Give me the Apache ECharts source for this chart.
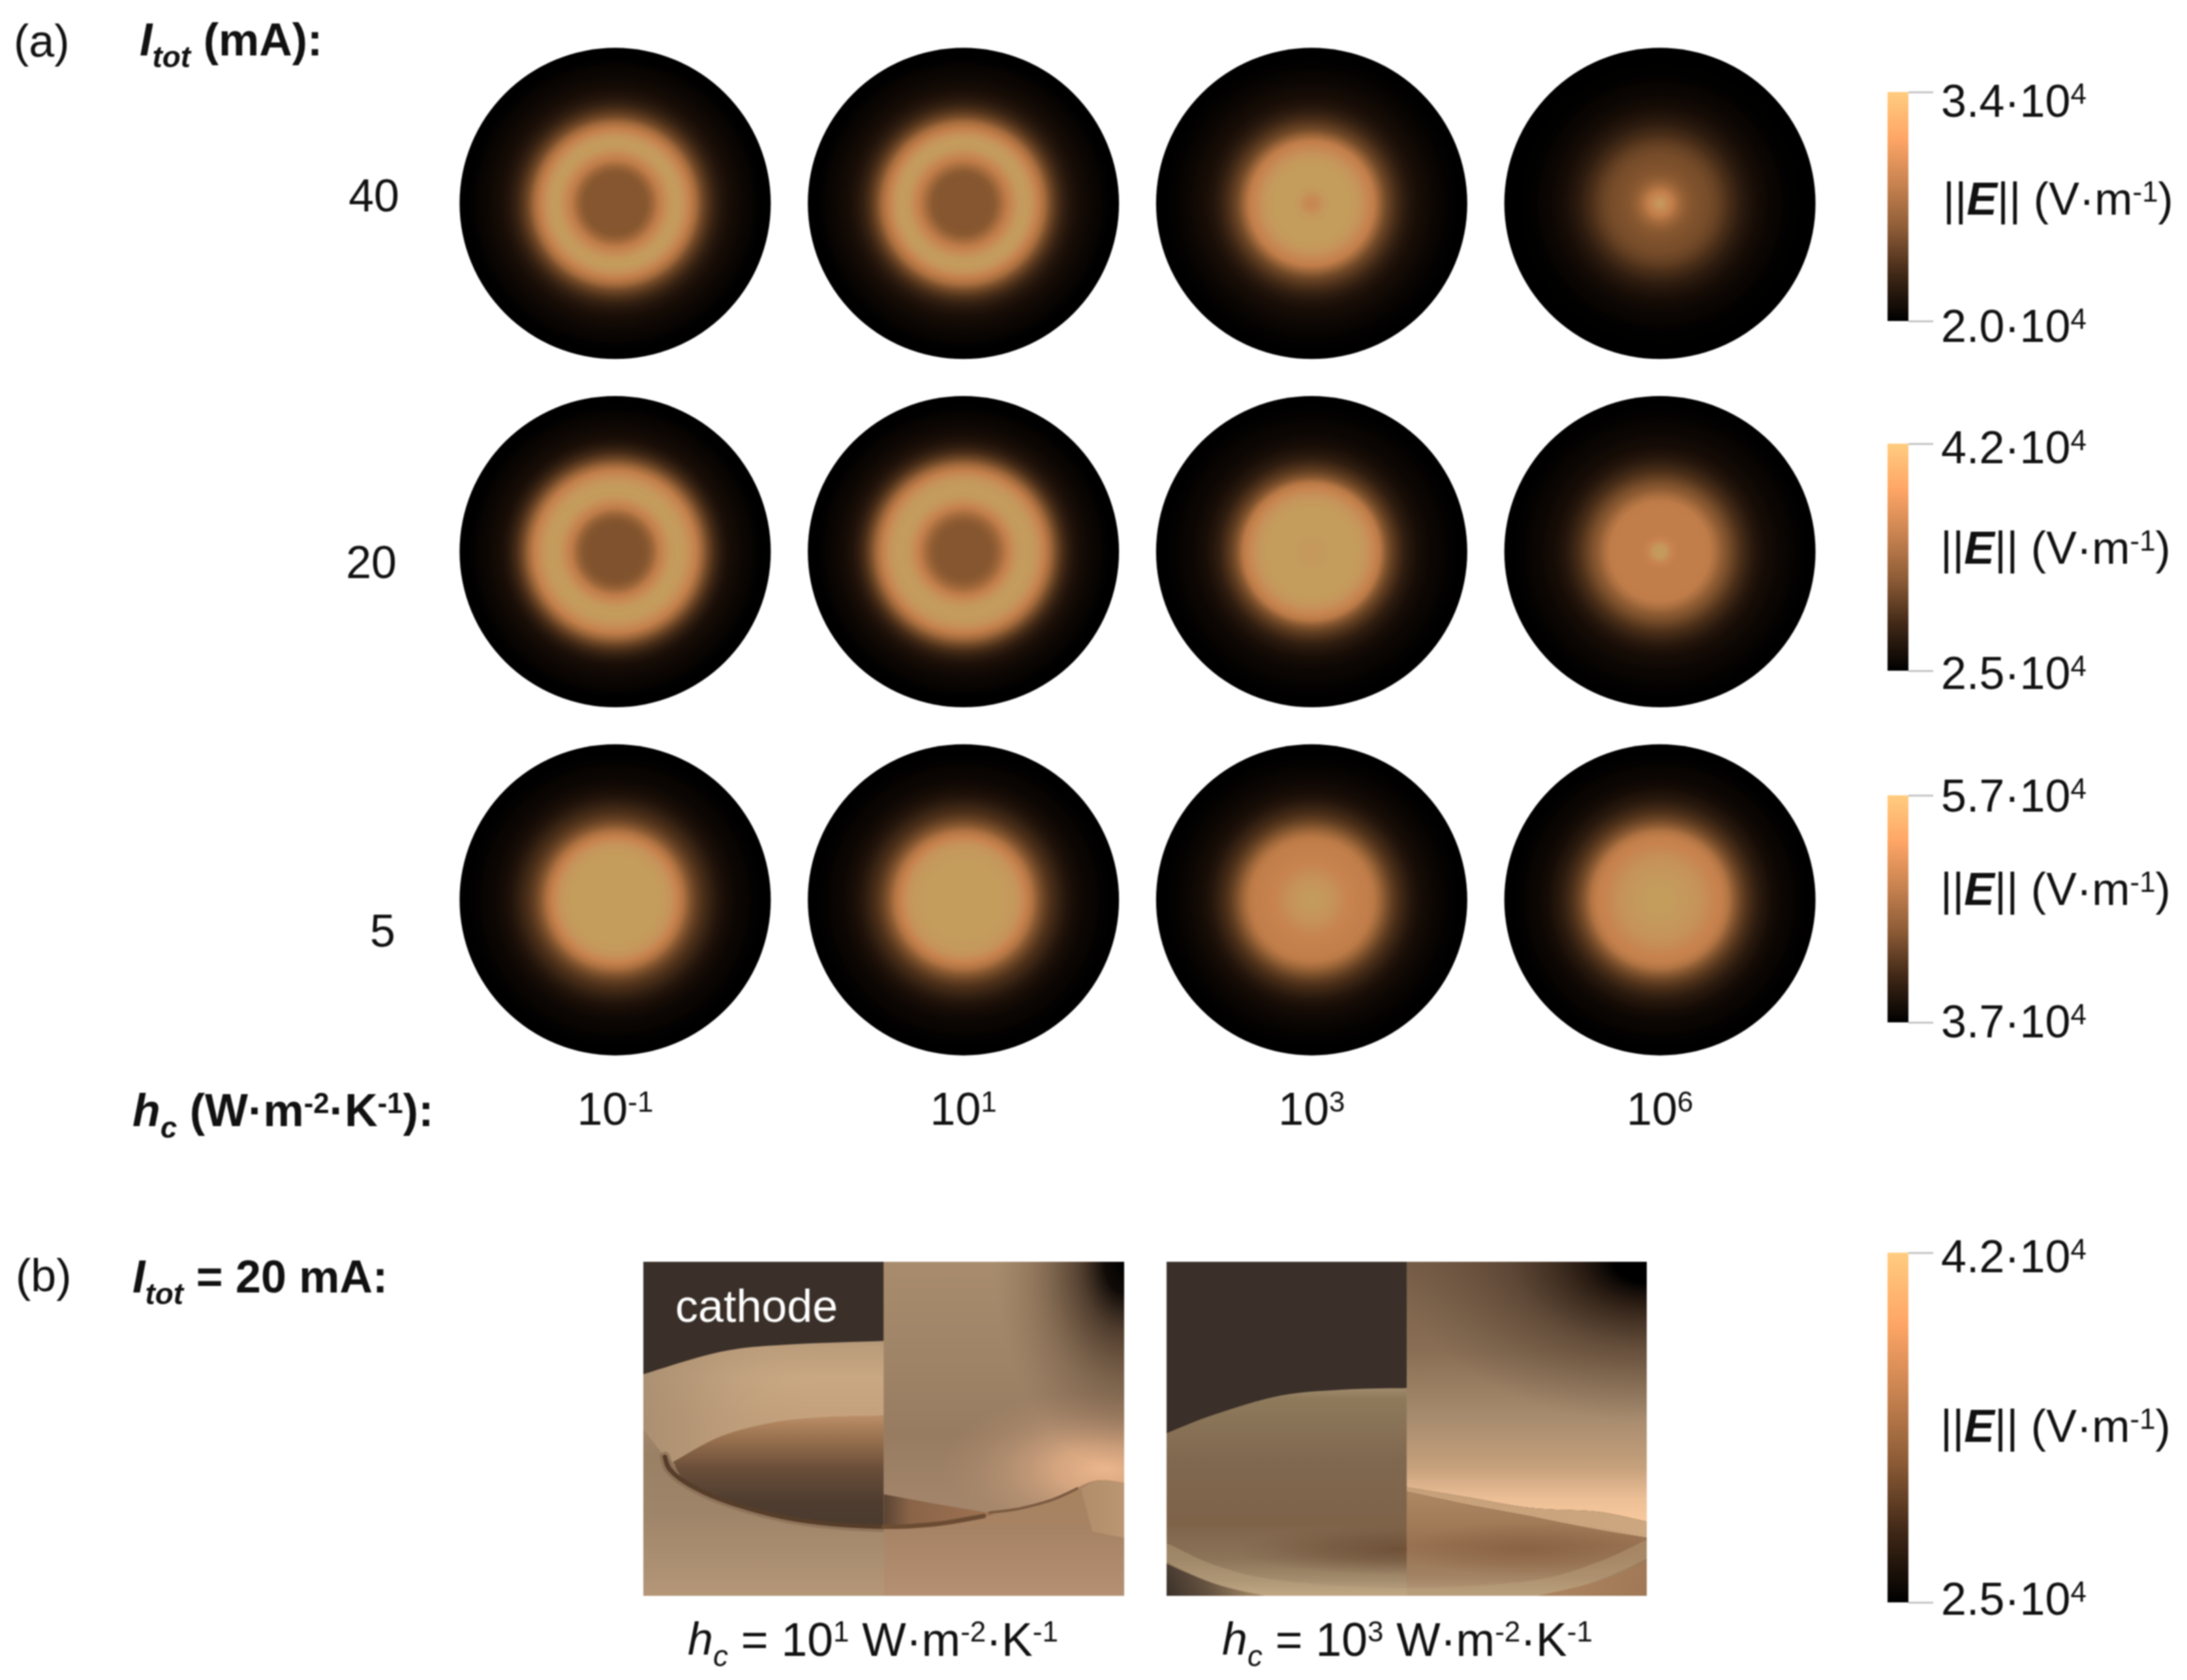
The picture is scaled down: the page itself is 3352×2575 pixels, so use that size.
<!DOCTYPE html>
<html><head><meta charset="utf-8">
<style>html,body{margin:0;padding:0;background:#fff}#c{width:3352px;height:2575px}#c canvas{filter:blur(1px)}</style>
<script src="https://cdn.jsdelivr.net/npm/echarts@6/dist/echarts.min.js"></script></head>
<body><div id="c"></div>
<script>
// ---------- data ----------
const hcExponents = ['-1','1','3','6'];
const currents = ['5','20','40'];
const radii = [0,.04,.08,.12,.16,.2,.24,.28,.32,.36,.4,.44,.48,.52,.56,.6,.64,.68,.72,.76,.8,.84,.88,.92,.96,1];
// relative field level along the radius of each disc
const i40_h1 = [.5,.5,.5,.5,.5,.51,.58,.7,.85,.97,1,.9,.75,.6,.43,.31,.22,.16,.12,.09,.07,.05,.03,.01,0,0];
const i40_h2 = [.5,.5,.5,.5,.5,.52,.6,.72,.86,.98,1,.91,.76,.61,.44,.31,.22,.16,.12,.09,.07,.05,.03,.01,0,0];
const i40_h3 = [.82,.85,.95,1,1,1,1,.97,.9,.83,.72,.56,.42,.33,.25,.19,.14,.11,.09,.07,.05,.03,.02,.01,0,0];
const i40_h4 = [1,.86,.72,.6,.54,.5,.48,.46,.44,.4,.35,.29,.24,.19,.15,.12,.09,.07,.05,.04,.02,.01,.005,0,0,0];
const i20_h1 = [.48,.48,.48,.48,.48,.5,.57,.7,.85,.97,1,.97,.87,.74,.57,.4,.27,.18,.12,.09,.07,.05,.03,.01,0,0];
const i20_h2 = [.5,.5,.5,.5,.5,.53,.6,.73,.87,.98,1,.98,.89,.76,.59,.42,.28,.19,.13,.1,.07,.05,.03,.01,0,0];
const i20_h3 = [.97,.97,.98,1,1,1,1,1,.97,.9,.82,.68,.5,.37,.28,.2,.15,.11,.08,.06,.05,.03,.02,.01,0,0];
const i20_h4 = [1,.95,.8,.72,.72,.72,.72,.72,.7,.62,.53,.46,.37,.29,.23,.17,.13,.1,.08,.06,.05,.03,.02,.01,0,0];
const i5_h1 = [1,1,1,1,1,1,1,1,.97,.9,.8,.64,.5,.38,.3,.24,.18,.13,.1,.07,.05,.04,.02,.01,0,0];
const i5_h2 = [1,1,1,1,1,1,1,.99,.96,.9,.8,.65,.51,.39,.3,.24,.18,.13,.1,.07,.05,.04,.02,.01,0,0];
const i5_h3 = [1,.98,.95,.92,.88,.84,.8,.78,.76,.74,.68,.58,.47,.36,.28,.22,.16,.12,.09,.07,.05,.03,.02,.01,0,0];
const i5_h4 = [1,1,1,.98,.96,.94,.92,.88,.84,.8,.75,.65,.52,.4,.31,.24,.18,.14,.1,.07,.05,.04,.02,.01,0,0];
const discTable = [
  [i5_h1,i5_h2,i5_h3,i5_h4],
  [i20_h1,i20_h2,i20_h3,i20_h4],
  [i40_h1,i40_h2,i40_h3,i40_h4]
];
const discColors = ['#000000','#160c06','#2f1d10','#4d3019','#6a4425','#85562f','#a56b3c','#bf7c49','#c8834e','#c6925a','#c49c5c'];
const scaleColors = [[0,'#ffcc80'],[.2,'#ffa666'],[.4,'#c98350'],[.6,'#8c5b36'],[.8,'#3f2716'],[1,'#000000']];
const scaleMin = [2.0e4,2.5e4,3.7e4,2.5e4];
const scaleMax = [3.4e4,4.2e4,5.7e4,4.2e4];

// outlines of the two cut-away renderings, in percent of each panel
const aTorusTop = [[0,33.7],[15.9,27],[29.8,24.8],[50,23.7]];
const aCraterTop = [[6.2,59.9],[15.9,52.4],[26.3,48.3],[36.7,46.6],[50,46]];
const aCraterBottom = [[50,79],[36.7,78],[26.3,75.5],[15.9,71],[9,66.2],[6.2,59.9]];
const aRim = [[4.5,58.4],[5.5,62.1],[9,66.2],[15.9,71],[26.3,75.5],[36.7,78.1],[50,79.3],[60.9,78.5],[71.6,75.9]];
const aWallEdge = [[50,69.6],[60.9,72.5],[71.6,75.1],[78.2,73.7],[85.1,71],[90.7,67.3],[93.4,65.7],[96.2,65.4],[100,66.2]];
const aEdgeShadow = [[72,75.1],[78.2,73.9],[85.1,71.2],[90.2,67.9]];
const bDiscTop = [[0,51.3],[10,45.7],[23.9,40],[37.8,38.2],[50,37.8]];
const bWallEdge = [[50,67.5],[62,70.3],[75.9,73.7],[89.7,74.8],[100,77.8]];
const bBandEdge = [[50,68.8],[62,72.5],[75,76],[89,80],[100,82.6]];
const bCornerLeft = [[0,90.4],[10,96.4],[20.4,100]];
const bCornerRight = [[77.3,100],[89.7,95.7],[100,90]];
const bRimBand = [[0,87],[10,93.5],[24,98],[50,100.2],[76,98],[90,92.5],[100,86]];

// ---------- helpers ----------
const FONT = '"Liberation Sans", Arial, sans-serif';
const R = echarts.graphic.RadialGradient, L = echarts.graphic.LinearGradient;
const stops = a => a.map(s => ({offset:s[0], color:s[1]}));
function curve(p){ // smooth outline through the read points
  const o=[];
  for(let i=0;i<p.length-1;i++){
    const a=p[Math.max(i-1,0)],b=p[i],c=p[i+1],d=p[Math.min(i+2,p.length-1)];
    for(let k=0;k<8;k++){const t=k/8,t2=t*t,t3=t2*t;
      o.push([0,1].map(j=>.5*(2*b[j]+(c[j]-a[j])*t+(2*a[j]-5*b[j]+4*c[j]-d[j])*t2+(3*b[j]-a[j]-3*c[j]+d[j])*t3)));}
  }
  o.push(p[p.length-1]);return o;
}
const rev = p => p.slice().reverse();
const poly = (pts,g,st) => ({kind:'poly',pts,g,st});
const line = (pts,color,w,op) => ({kind:'line',pts,color,w,op});
const blob = (c,rx,ry,st) => ({kind:'blob',c,rx,ry,st});

const aTorus = [...curve(aTorusTop),[50,46],...rev(curve(aCraterTop)),[4.5,58.4],[0,50]];
const layersA = [
  poly([[0,0],[100,0],[100,100],[0,100]],[0,40,0,100],[[0,'#a98f72'],[.3,'#9a8065'],[.6,'#9f856a'],[1,'#b59778']]),
  poly([[0,0],[50,0],[50,24],[0,34]],[0,0,1,0],[[0,'#3a3029'],[1,'#3a3029']]),
  poly(aTorus,[0,23.7,0,48],[[0,'#b4987a'],[.08,'#bb9d7b'],[.45,'#c9a883'],[1,'#c4a07c']]),
  poly(aTorus,[0,0,36,0],[[0,'rgba(168,142,112,.9)'],[.3,'rgba(172,145,115,.6)'],[.7,'rgba(185,155,122,.22)'],[1,'rgba(195,160,125,0)']]),
  line(curve(aRim),'#7d6149',16,.5),
  poly([...curve(aCraterTop),...curve(aCraterBottom)],[0,46,0,78],[[0,'#bb8f68'],[.2,'#9b7350'],[.5,'#6a4e39'],[.8,'#4f3d30'],[1,'#4b3a2e']]),
  line(curve(aRim),'#553d2a',7,1),
  poly([[50,0],[100,0],...rev(curve(aWallEdge))],[50,0,50,72],[[0,'#a88c6d'],[.45,'#9f8367'],[.72,'#987c62'],[1,'#a2856a']]),
  blob([96,62],34,24,[[0,'rgba(236,182,140,1)'],[.3,'rgba(226,174,134,.8)'],[.65,'rgba(205,160,125,.35)'],[1,'rgba(180,140,110,0)']]),
  blob([100,0],27,62,[[0,'rgba(0,0,0,1)'],[.15,'rgba(8,4,2,.95)'],[.34,'rgba(50,34,24,.72)'],[.68,'rgba(90,68,50,.32)'],[1,'rgba(120,95,75,0)']]),
  poly([...curve(aWallEdge),[100,100],[50,100]],[50,68,50,100],[[0,'#a9835f'],[.35,'#a78365'],[1,'#b59072']]),
  poly([[50,69.6],[60.9,72.5],[71.6,75.1],[73,75.8],[60.9,78.5],[50,79.3]],[50,0,72,0],[[0,'#5a4433'],[.25,'#8a6448'],[1,'#9f7252']]),
  poly([[91,68],[93.4,80.7],[100,82.6],[100,66.2],[96.2,65.4],[93.4,65.7]],[91,0,100,0],[[0,'#b28d6b'],[1,'#bb9672']]),
  line(curve(aEdgeShadow),'#7a5a40',4,1),
  line(curve(aRim).slice(48,64),'#6b4c33',7,1)
];
const layersB = [
  poly([[0,0],[100,0],[100,100],[0,100]],[0,0,0,1],[[0,'#3a3029'],[1,'#3a3029']]),
  poly([...curve(bDiscTop),[50,100],[0,100]],[0,37.8,0,100],[[0,'#a08a6c'],[.05,'#8f7a5c'],[.35,'#806850'],[.65,'#7e6349'],[.82,'#8c7459'],[.92,'#a38b6d'],[1,'#c0a885']]),
  blob([50,86],36,8,[[0,'rgba(105,74,50,.85)'],[.5,'rgba(110,80,55,.5)'],[1,'rgba(120,90,65,0)']]),
  poly([[50,0],[100,0],...rev(curve(bWallEdge))],[50,0,50,77],[[0,'#775d47'],[.35,'#8a6f55'],[.6,'#a68b6e'],[.8,'#c6a17c'],[.92,'#ecbf96'],[1,'#f8c89c']]),
  blob([100,0],52,48,[[0,'rgba(0,0,0,1)'],[.13,'rgba(0,0,0,1)'],[.26,'rgba(28,16,9,.85)'],[.55,'rgba(60,42,30,.45)'],[1,'rgba(90,70,55,0)']]),
  poly([...curve(bWallEdge),...rev(curve(bBandEdge))],[50,0,100,0],[[0,'#c6a079'],[1,'#cda780']]),
  poly([...curve(bBandEdge),[100,100],[50,100]],[50,70,50,100],[[0,'#ac8561'],[.5,'#997352'],[.8,'#a18262'],[1,'#b89c7b']]),
  blob([75,86],28,8,[[0,'rgba(135,95,65,.8)'],[1,'rgba(135,95,65,0)']]),
  line(curve(bRimBand),'#bfa784',26,.38),
  poly([...curve(bCornerLeft),[0,100]],[0,100,14,90],[[0,'#3a3029'],[.55,'#665341'],[1,'#9a8060']]),
  poly([...curve(bCornerRight),[100,100]],[100,100,85,92],[[0,'#a07856'],[1,'#aa825e']])
];

function panelSeries(layers, idx){
  return {
    type:'custom', xAxisIndex:idx, yAxisIndex:idx, clip:true, silent:true, animation:false,
    data:[[0,0]], coordinateSystem:'cartesian2d',
    renderItem(params, api){
      const C = p => api.coord(p);
      const children = layers.map(l=>{
        if(l.kind==='poly'){
          const g=l.g; const a=C([g[0],g[1]]), b=C([g[2],g[3]]);
          return {type:'polygon',shape:{points:l.pts.map(C)},
            style:{fill:new L(a[0],a[1],b[0],b[1],stops(l.st),true)}};
        }
        if(l.kind==='line'){
          return {type:'polyline',shape:{points:l.pts.map(C)},
            style:{stroke:l.color,lineWidth:l.w,fill:'none',opacity:l.op,lineCap:'round',lineJoin:'round'}};
        }
        const c=C(l.c), e=C([l.c[0]+l.rx,l.c[1]+l.ry]);
        const rx=Math.abs(e[0]-c[0]), ry=Math.abs(e[1]-c[1]);
        return {type:'circle',shape:{cx:c[0],cy:c[1],r:rx},originX:c[0],originY:c[1],scaleY:ry/rx,
          style:{fill:new R(.5,.5,.5,stops(l.st))}};
      });
      return {type:'group',children};
    }
  };
}

// ---------- text ----------
const base = {fontFamily:FONT,fontSize:70,lineHeight:70,fill:'#111',color:'#111'};
const rich = {
  m:{...base,verticalAlign:'top'},
  c:{...base,fontSize:71.5,lineHeight:70,verticalAlign:'top'},
  t:{...base,fontWeight:'bold',verticalAlign:'top'},
  i:{...base,fontWeight:'bold',fontStyle:'italic',verticalAlign:'top'},
  n:{...base,fontStyle:'italic',verticalAlign:'top'},
  u:{...base,fontSize:44,lineHeight:44,verticalAlign:'top'},
  tu:{...base,fontSize:44,lineHeight:44,fontWeight:'bold',verticalAlign:'top'},
  d:{...base,fontSize:46,lineHeight:82,height:46,fontStyle:'italic',verticalAlign:'bottom'},
  id:{...base,fontSize:46,lineHeight:82,height:46,fontWeight:'bold',fontStyle:'italic',verticalAlign:'bottom'},
  w:{...base,fontSize:70,fill:'#fff',color:'#fff'}
};
const T = (x,y,text) => ({type:'text',x,y,z:100,silent:true,style:{text,rich,align:'left',verticalAlign:'middle',fontFamily:FONT,fontSize:70,fill:'#111'}});
const labelEfield = '{m|||}{i|E}{m||| (V·m}{u|-1}{m|)}';
const texts = [
  T(21,68,'{m|(a)}'),
  T(214,72,'{i|I}{id|tot}{t| (mA):}'),
  T(203,1713,'{i|h}{id|c}{t| (W·m}{tu|-2}{t|·K}{tu|-1}{t|):}'),
  T(24,1960,'{m|(b)}'),
  T(203,1968,'{i|I}{id|tot}{t| = 20 mA:}'),
  T(1054,2523,'{n|h}{d|c}{c| = 10}{u|1}{c| W·m}{u|-2}{c|·K}{u|-1}'),
  T(1873,2523,'{n|h}{d|c}{c| = 10}{u|3}{c| W·m}{u|-2}{c|·K}{u|-1}'),
  T(2978,310,labelEfield),
  T(2974,845,labelEfield),
  T(2974,1368,labelEfield),
  T(2974,2191,labelEfield),
  T(1035,2007,'{w|cathode}')
];

// ---------- scales ----------
const cbGrids = [[2893,141,351],[2893,680,348],[2893,1219,348],[2893,1920,536]];
const cbLabelShift = [[13,19],[9,11],[4,6],[-2,11]]; // [lower, upper] label offset
const grids = [{left:676,top:45,width:2135,height:1601}];
const xAxes = [{type:'category',data:hcExponents.map(e=>'10^'+e),gridIndex:0,
  axisLine:{show:false},axisTick:{show:false},splitLine:{show:false},
  axisLabel:{margin:24,interval:0,formatter:v=>'{b|10}{s|'+v.split('^')[1]+'}',
    rich:{b:{...base,verticalAlign:'top'},s:{...base,fontSize:44,lineHeight:44,verticalAlign:'top'}}}}];
const yAxes = [{type:'category',data:currents,gridIndex:0,
  axisLine:{show:false},axisTick:{show:false},splitLine:{show:false},
  axisLabel:{margin:64,interval:0,formatter:v=>'{r'+v+'|'+v+'}',
    rich:{r5:{...base,padding:[106,6,0,0]},r20:{...base,padding:[42,4,0,0]},r40:{...base,padding:[0,0,14,0]}}}}];

const series = [];
const cm = t => echarts.color.lerp(t,discColors);
const discData = [];
discTable.forEach((row,j)=>row.forEach((prof,i)=>{
  discData.push({value:[i,j],itemStyle:{opacity:1,color:new R(.5,.5,.5,radii.map((r,k)=>({offset:r,color:cm(prof[k])})))}});
}));
series.push({type:'scatter',xAxisIndex:0,yAxisIndex:0,symbol:'circle',symbolSize:477,silent:true,animation:false,itemStyle:{opacity:1},data:discData});

// colour scales
function shiftStyles(sh){
  const pad = s => s>=0 ? [s,0,0,0] : [0,0,-s,0];
  return {
    b0:{...base,verticalAlign:'top',padding:pad(sh[0])}, s0:{...base,fontSize:44,lineHeight:44,verticalAlign:'top',padding:pad(sh[0])},
    b1:{...base,verticalAlign:'top',padding:pad(sh[1])}, s1:{...base,fontSize:44,lineHeight:44,verticalAlign:'top',padding:pad(sh[1])}
  };
}
cbGrids.forEach((g,k)=>{
  const gi=grids.length;
  grids.push({left:g[0],top:g[1],width:32,height:g[2]});
  xAxes.push({type:'category',gridIndex:gi,data:['E'],show:false});
  const ends=[scaleMin[k],scaleMax[k]];
  yAxes.push({type:'value',gridIndex:gi,position:'right',min:scaleMin[k],max:scaleMax[k],
    splitLine:{show:false},axisLine:{show:false},
    axisTick:{show:true,length:38,customValues:ends,lineStyle:{color:'#c4c4c4',width:3}},
    axisLabel:{show:true,margin:50,customValues:ends,formatter:v=>{const q=v===scaleMax[k]?1:0;return '{b'+q+'|'+(v/1e4).toFixed(1)+'·10}{s'+q+'|4}';},
      rich:shiftStyles(cbLabelShift[k])}});
  series.push({type:'bar',xAxisIndex:gi,yAxisIndex:gi,barWidth:'100%',silent:true,animation:false,
    data:[{value:scaleMax[k],itemStyle:{color:new L(0,0,0,1,stops(scaleColors))}}]});
});

// rendered panels
[[986,737,layersA],[1788,736,layersB]].forEach(p=>{
  const gi=grids.length;
  grids.push({left:p[0],top:1934,width:p[1],height:512});
  xAxes.push({type:'value',gridIndex:gi,min:0,max:100,show:false});
  yAxes.push({type:'value',gridIndex:gi,min:0,max:100,inverse:true,show:false});
  series.push(panelSeries(p[2],gi));
});

const chart = echarts.init(document.getElementById('c'),null,{renderer:'canvas'});
chart.setOption({
  backgroundColor:'#fff',animation:false,
  textStyle:{fontFamily:FONT},
  grid:grids,xAxis:xAxes,yAxis:yAxes,series,
  graphic:{elements:texts}
});
</script></body></html>
